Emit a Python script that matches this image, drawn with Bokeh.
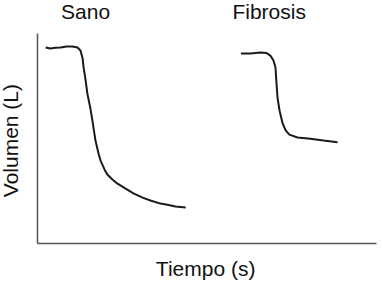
from bokeh.plotting import figure
from bokeh.models import Label, Range1d
from bokeh.embed import file_html
from bokeh.resources import INLINE
import math

# Data (time in s, volume in L)
sano_t = [0.24, 0.38, 0.53, 0.68, 0.86, 1.03, 1.18, 1.27, 1.33, 1.36, 1.42, 1.47, 1.56, 1.62,
          1.71, 1.80, 1.86, 1.98, 2.06, 2.21, 2.36, 2.60, 2.83, 3.10, 3.33, 3.63, 3.83, 4.07, 4.37]
sano_v = [5.60, 5.57, 5.59, 5.60, 5.63, 5.63, 5.60, 5.51, 5.29, 5.03, 4.66, 4.29, 3.86, 3.51,
          2.94, 2.57, 2.37, 2.11, 1.97, 1.83, 1.71, 1.57, 1.43, 1.31, 1.23, 1.14, 1.11, 1.06, 1.03]

fib_t = [6.00, 6.28, 6.58, 6.76, 6.87, 6.96, 7.02, 7.05, 7.08, 7.14, 7.23, 7.32, 7.43, 7.67,
         8.05, 8.44, 8.85]
fib_v = [5.43, 5.43, 5.46, 5.44, 5.37, 5.23, 5.03, 4.57, 4.17, 3.80, 3.43, 3.23, 3.11, 3.03,
         2.99, 2.94, 2.89]

series_names = ["Sano", "Fibrosis"]
x_label = "Tiempo (s)"
y_label = "Volumen (L)"

# axis extents (data units)
t_min, t_max = 0, 10
v_min, v_max = 0, 6

FONT = "Liberation Sans"

p = figure(width=382, height=284, output_backend="svg", toolbar_location=None,
           x_range=Range1d(-1.0914, 10.177), y_range=Range1d(-1.1714, 6.9429),
           min_border=0)
p.axis.visible = False
p.outline_line_color = None
p.grid.visible = False
p.background_fill_color = "white"
p.border_fill_color = "white"

# axis lines
p.segment(x0=[t_min, t_min], y0=[v_min, v_min], x1=[t_max, t_min], y1=[v_min, v_max],
          line_color="#555555", line_width=1.5)

p.line(sano_t, sano_v, line_color="#1a1a1a", line_width=2)
p.line(fib_t, fib_v, line_color="#1a1a1a", line_width=2)

common = dict(text_font=FONT, text_font_size="21px", text_color="#111111")
p.add_layout(Label(x=1.42, y=6.63, text=series_names[0], text_align="center",
                   text_baseline="alphabetic", **common))
p.add_layout(Label(x=5.75, y=6.63, text=series_names[1], text_align="left",
                   text_baseline="alphabetic", **common))
p.add_layout(Label(x=4.96, y=-0.70, text=x_label, text_align="center",
                   text_baseline="alphabetic", **common))
p.add_layout(Label(x=-0.80, y=2.94, text=y_label, text_align="center",
                   text_baseline="middle", angle=math.pi / 2, **common))

open("out.html", "w").write(file_html(p, INLINE))
